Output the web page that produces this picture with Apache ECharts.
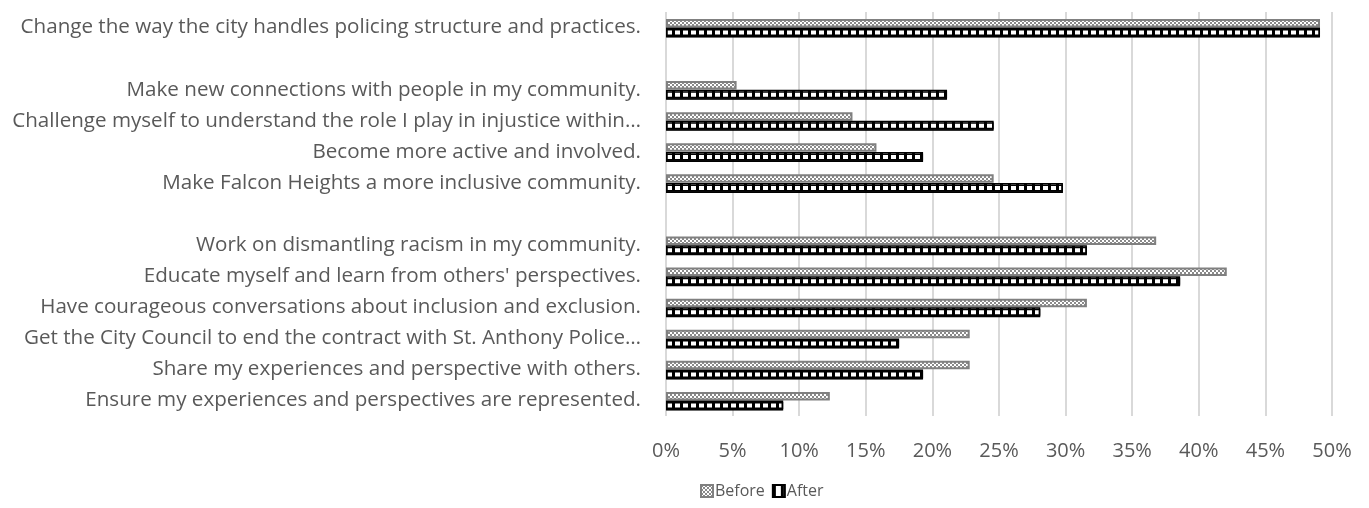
<!DOCTYPE html>
<html>
<head>
<meta charset="utf-8">
<script src="https://cdn.jsdelivr.net/npm/echarts@6/dist/echarts.min.js"></script>
<style>
  html, body { margin: 0; padding: 0; background: #fff; }
  #chart { width: 1369px; height: 508px; }
</style>
</head>
<body>
<div id="chart"></div>
<script>
// Survey goals, share of respondents (%) before and after
const categories = [
  'Change the way the city handles policing structure and practices.',
  ' ',
  'Make new connections with people in my community.',
  'Challenge myself to understand the role I play in injustice within\u2026',
  'Become more active and involved.',
  'Make Falcon Heights a more inclusive community.',
  '  ',
  'Work on dismantling racism in my community.',
  "Educate myself and learn from others' perspectives.",
  'Have courageous conversations about inclusion and exclusion.',
  'Get the City Council to end the contract with St. Anthony Police\u2026',
  'Share my experiences and perspective with others.',
  'Ensure my experiences and perspectives are represented.'
];
const beforeValues = [49.1, null, 5.3, 14.0, 15.8, 24.6, null, 36.8, 42.1, 31.6, 22.8, 22.8, 12.3];
const afterValues  = [49.1, null, 21.1, 24.6, 19.3, 29.8, null, 31.6, 38.6, 28.1, 17.5, 19.3, 8.8];
const xTicks = [0, 5, 10, 15, 20, 25, 30, 35, 40, 45, 50];

// Fill patterns: fine checkerboard for "Before", white cells on black for "After"
function makeTile(w, h, draw) {
  const c = document.createElement('canvas');
  c.width = w; c.height = h;
  draw(c.getContext('2d'));
  return c;
}
const checkerTile = makeTile(4, 4, ctx => {
  ctx.fillStyle = '#ffffff';
  ctx.fillRect(0, 0, 4, 4);
  ctx.fillStyle = '#8a8a8a';
  ctx.fillRect(0, 0, 2, 2);
  ctx.fillRect(2, 2, 2, 2);
});
const cellTile = makeTile(8, 2, ctx => {
  ctx.fillStyle = '#000000';
  ctx.fillRect(0, 0, 8, 2);
  ctx.fillStyle = '#ffffff';
  ctx.fillRect(3, 0, 5, 2);
});

const textColor = '#595959';
const fontFamily = '"Open Sans", sans-serif';

const chart = echarts.init(document.getElementById('chart'), null, { renderer: 'canvas' });
chart.setOption({
  animation: false,
  grid: { left: 666, right: 37, top: 12, bottom: 92, outerBoundsMode: 'none' },
  legend: {
    data: ['Before', 'After'],
    left: 695,
    top: 478,
    icon: 'rect',
    itemWidth: 12,
    itemHeight: 12,
    itemGap: 7,
    textStyle: { color: textColor, fontFamily, fontSize: 16, padding: [0, 0, 0, -3] }
  },
  xAxis: {
    type: 'value',
    min: 0,
    max: 50,
    interval: 5,
    axisLine: { show: false },
    axisTick: { show: false },
    axisLabel: {
      color: textColor, fontFamily, fontSize: 20, margin: 25,
      formatter: v => (xTicks.includes(v) ? v + '%' : '')
    },
    splitLine: { lineStyle: { color: '#d9d9d9', width: 2 } }
  },
  yAxis: {
    type: 'category',
    inverse: true,
    data: categories,
    axisLine: { show: false },
    axisTick: { show: false },
    axisLabel: { color: textColor, fontFamily, fontSize: 20.6, margin: 25, interval: 0 },
    splitLine: { show: false }
  },
  series: [
    {
      name: 'Before',
      type: 'bar',
      data: beforeValues,
      barWidth: 8.5,
      barGap: '2%',
      itemStyle: {
        color: { image: checkerTile, repeat: 'repeat' },
        borderColor: '#808080',
        borderWidth: 2
      }
    },
    {
      name: 'After',
      type: 'bar',
      data: afterValues,
      barWidth: 8.5,
      itemStyle: {
        color: { image: cellTile, repeat: 'repeat' },
        borderColor: '#000000',
        borderWidth: 1.5,
        shadowColor: '#000000',
        shadowBlur: 0,
        shadowOffsetY: 1.5
      }
    }
  ]
});
</script>
</body>
</html>
